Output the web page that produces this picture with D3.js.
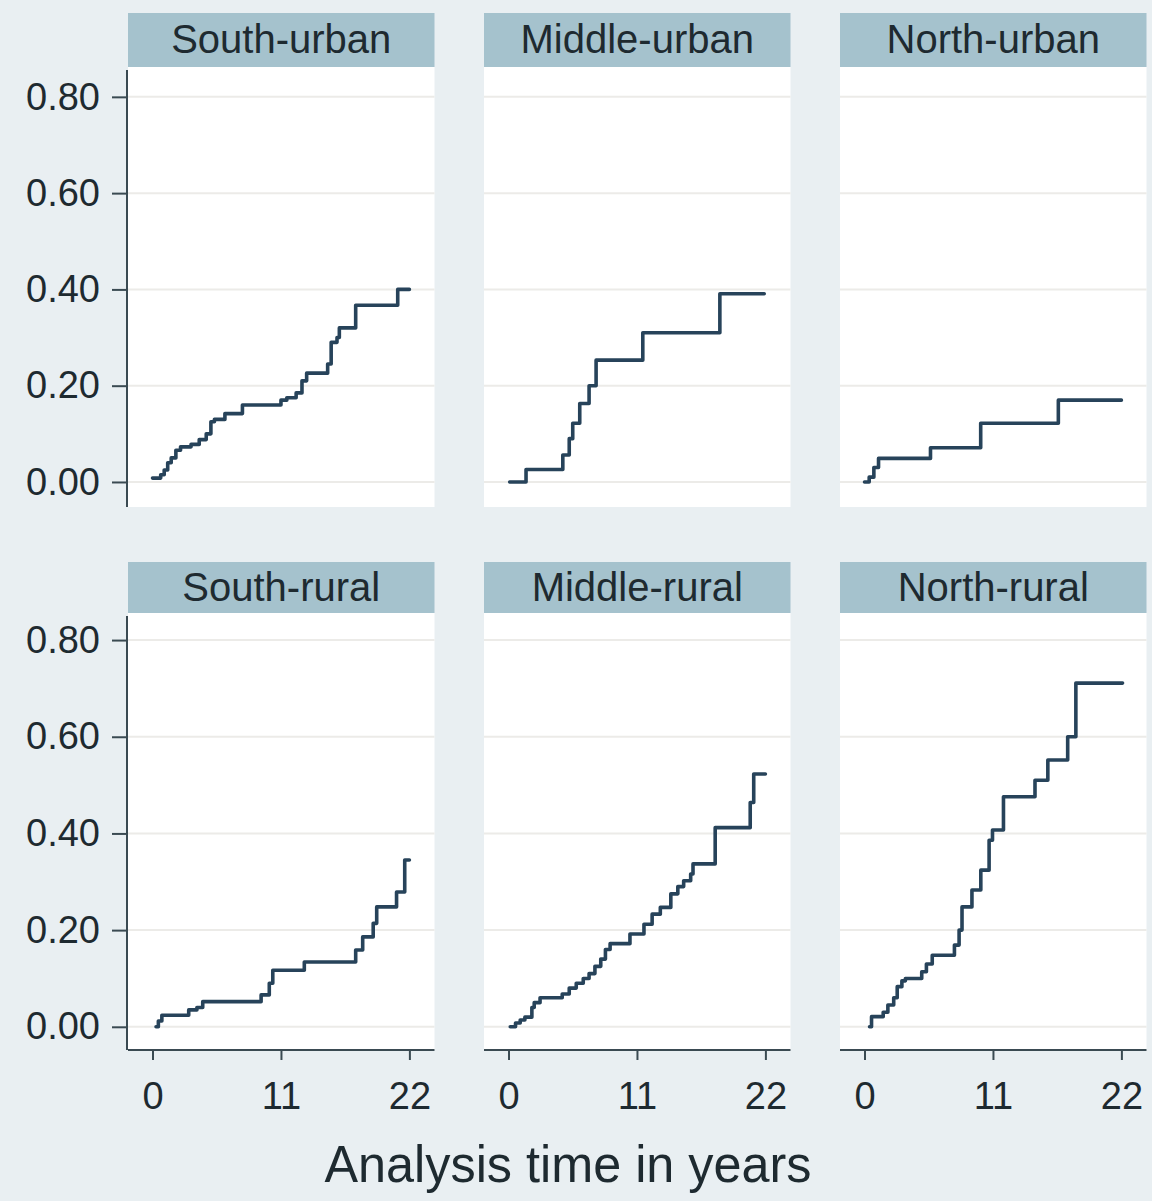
<!DOCTYPE html>
<html>
<head>
<meta charset="utf-8">
<script src="https://cdn.jsdelivr.net/npm/d3@7"></script>
<style>
  html, body { margin: 0; padding: 0; background: #e9eff2; }
  svg { display: block; }
  text { font-family: "Liberation Sans", Arial, sans-serif; fill: #1e2a30; }
</style>
</head>
<body>
<svg id="chart" width="1152" height="1201"></svg>
<script>
// Panel titles, in reading order (top row urban, bottom row rural)
const panelNames = ["South-urban", "Middle-urban", "North-urban",
                    "South-rural", "Middle-rural", "North-rural"];

// Cumulative failure estimates: event times (years) and step heights
const southUrbanTime = [0, 0.7, 1.0, 1.3, 1.6, 2.0, 2.4, 3.3, 4.0, 4.6, 5.0, 5.3, 6.2, 7.7, 11.0, 11.5, 12.3, 12.8, 13.2, 15.0, 15.3, 15.8, 16.0, 17.4, 21.0, 22.0];
const southUrbanRisk = [0.008, 0.015, 0.025, 0.04, 0.05, 0.066, 0.073, 0.078, 0.088, 0.10, 0.125, 0.13, 0.142, 0.16, 0.17, 0.175, 0.185, 0.21, 0.226, 0.245, 0.29, 0.30, 0.32, 0.367, 0.40, 0.40];

const middleUrbanTime = [0.1, 1.5, 4.65, 5.2, 5.5, 6.1, 6.9, 7.5, 11.5, 18.1, 21.9];
const middleUrbanRisk = [0.0, 0.026, 0.056, 0.09, 0.122, 0.163, 0.20, 0.253, 0.31, 0.391, 0.391];

const northUrbanTime = [0, 0.4, 0.8, 1.2, 5.65, 9.95, 16.6, 22.0];
const northUrbanRisk = [0.0, 0.01, 0.03, 0.049, 0.071, 0.122, 0.17, 0.17];

const southRuralTime = [0.3, 0.5, 0.8, 3.1, 3.8, 4.3, 9.3, 10.0, 10.3, 13.0, 17.4, 18.0, 18.9, 19.2, 20.9, 21.6, 22.0];
const southRuralRisk = [0.0, 0.012, 0.024, 0.035, 0.04, 0.052, 0.066, 0.09, 0.117, 0.134, 0.159, 0.186, 0.214, 0.248, 0.279, 0.345, 0.345];

const middleRuralTime = [0.15, 0.6, 1.0, 1.4, 2.0, 2.2, 2.7, 4.6, 5.2, 5.8, 6.4, 6.9, 7.4, 7.9, 8.3, 8.7, 10.4, 11.6, 12.3, 13.0, 13.9, 14.5, 15.0, 15.6, 15.8, 17.7, 20.7, 21.0, 22.0];
const middleRuralRisk = [0.0, 0.008, 0.014, 0.02, 0.04, 0.05, 0.06, 0.068, 0.08, 0.09, 0.10, 0.11, 0.125, 0.14, 0.16, 0.172, 0.192, 0.212, 0.233, 0.247, 0.275, 0.29, 0.302, 0.316, 0.337, 0.412, 0.464, 0.523, 0.523];

const northRuralTime = [0.43, 0.6, 1.6, 2.0, 2.5, 2.8, 3.2, 3.5, 4.9, 5.3, 5.8, 7.7, 8.1, 8.35, 9.2, 9.96, 10.67, 10.96, 11.9, 14.6, 15.7, 17.4, 18.1, 22.1];
const northRuralRisk = [0.0, 0.021, 0.03, 0.045, 0.06, 0.083, 0.095, 0.10, 0.114, 0.13, 0.148, 0.169, 0.20, 0.248, 0.283, 0.324, 0.386, 0.407, 0.476, 0.51, 0.552, 0.60, 0.711, 0.711];

// Axis tick labels
const yTicks = [0, 0.2, 0.4, 0.6, 0.8];
const xTicks = [0, 11, 22];
const xTitle = "Analysis time in years";

const series = [
  [southUrbanTime, southUrbanRisk], [middleUrbanTime, middleUrbanRisk], [northUrbanTime, northUrbanRisk],
  [southRuralTime, southRuralRisk], [middleRuralTime, middleRuralRisk], [northRuralTime, northRuralRisk]
];

// Layout of the 3 x 2 grid
const colX = [128, 484, 840];
const panelW = 306.5;
const rows = [
  { stripTop: 13, stripBottom: 67, plotBottom: 507, yDomain: [-0.052, 0.862] },
  { stripTop: 562, stripBottom: 613, plotBottom: 1050, yDomain: [-0.048, 0.856] }
];
const xDomain = [-2.1, 24.15];

const svg = d3.select("#chart");
svg.append("rect").attr("width", 1152).attr("height", 1201).attr("fill", "#e9eff2");

const fmtY = d3.format(".2f");
const lineColor = "#27435a";
const axisColor = "#3a4a52";

panelNames.forEach((name, i) => {
  const r = rows[Math.floor(i / 3)];
  const c = i % 3;
  const x0 = colX[c];
  const x = d3.scaleLinear().domain(xDomain).range([x0, x0 + panelW]);
  const y = d3.scaleLinear().domain(r.yDomain).range([r.plotBottom, r.stripBottom]);

  const g = svg.append("g");

  // plot region
  g.append("rect")
    .attr("x", x0).attr("y", r.stripBottom)
    .attr("width", panelW).attr("height", r.plotBottom - r.stripBottom)
    .attr("fill", "#ffffff");

  // horizontal grid lines at the y labels
  g.selectAll("line.grid").data(yTicks).join("line")
    .attr("class", "grid")
    .attr("x1", x0).attr("x2", x0 + panelW)
    .attr("y1", d => y(d)).attr("y2", d => y(d))
    .attr("stroke", "#ecebe8").attr("stroke-width", 2);

  // strip with panel title
  g.append("rect")
    .attr("x", x0).attr("y", r.stripTop)
    .attr("width", panelW).attr("height", r.stripBottom - r.stripTop)
    .attr("fill", "#a5c2cd");
  g.append("text")
    .attr("x", x0 + panelW / 2)
    .attr("y", (r.stripTop + r.stripBottom) / 2 + 13)
    .attr("text-anchor", "middle")
    .attr("font-size", 40)
    .text(name);

  // step curve
  const [ts, vs] = series[i];
  const pts = ts.map((t, k) => [t, vs[k]]);
  g.append("path")
    .datum(pts)
    .attr("fill", "none")
    .attr("stroke", lineColor)
    .attr("stroke-width", 3.6)
    .attr("stroke-linejoin", "round")
    .attr("stroke-linecap", "round")
    .attr("d", d3.line().x(d => x(d[0])).y(d => y(d[1])).curve(d3.curveStepAfter));

  // left axis only on the first column
  if (c === 0) {
    const ya = g.append("g")
      .attr("transform", `translate(${x0 - 1},0)`)
      .call(d3.axisLeft(y).tickValues(yTicks).tickFormat(fmtY).tickSize(15).tickPadding(12));
    ya.select(".domain").attr("stroke", axisColor).attr("stroke-width", 2)
      .attr("d", `M0,${r.stripBottom + 3}V${r.plotBottom}`);
    ya.selectAll(".tick line").attr("stroke", axisColor).attr("stroke-width", 2);
    ya.selectAll(".tick text").attr("font-size", 38).attr("fill", "#1e2a30")
      .attr("font-family", "Liberation Sans, Arial, sans-serif");
  }

  // bottom axis only on the lower row
  if (i >= 3) {
    const xa = g.append("g")
      .attr("transform", `translate(0,${r.plotBottom})`)
      .call(d3.axisBottom(x).tickValues(xTicks).tickFormat(d3.format("d")).tickSize(10).tickPadding(22));
    xa.select(".domain").attr("stroke", axisColor).attr("stroke-width", 2)
      .attr("d", `M${x0},0H${x0 + panelW}`);
    xa.selectAll(".tick line").attr("stroke", axisColor).attr("stroke-width", 2);
    xa.selectAll(".tick text").attr("font-size", 38).attr("fill", "#1e2a30")
      .attr("font-family", "Liberation Sans, Arial, sans-serif");
  }
});

// shared x-axis title
svg.append("text")
  .attr("x", 568).attr("y", 1182)
  .attr("text-anchor", "middle")
  .attr("font-size", 52)
  .attr("textLength", 487)
  .attr("lengthAdjust", "spacingAndGlyphs")
  .text(xTitle);
</script>
</body>
</html>
